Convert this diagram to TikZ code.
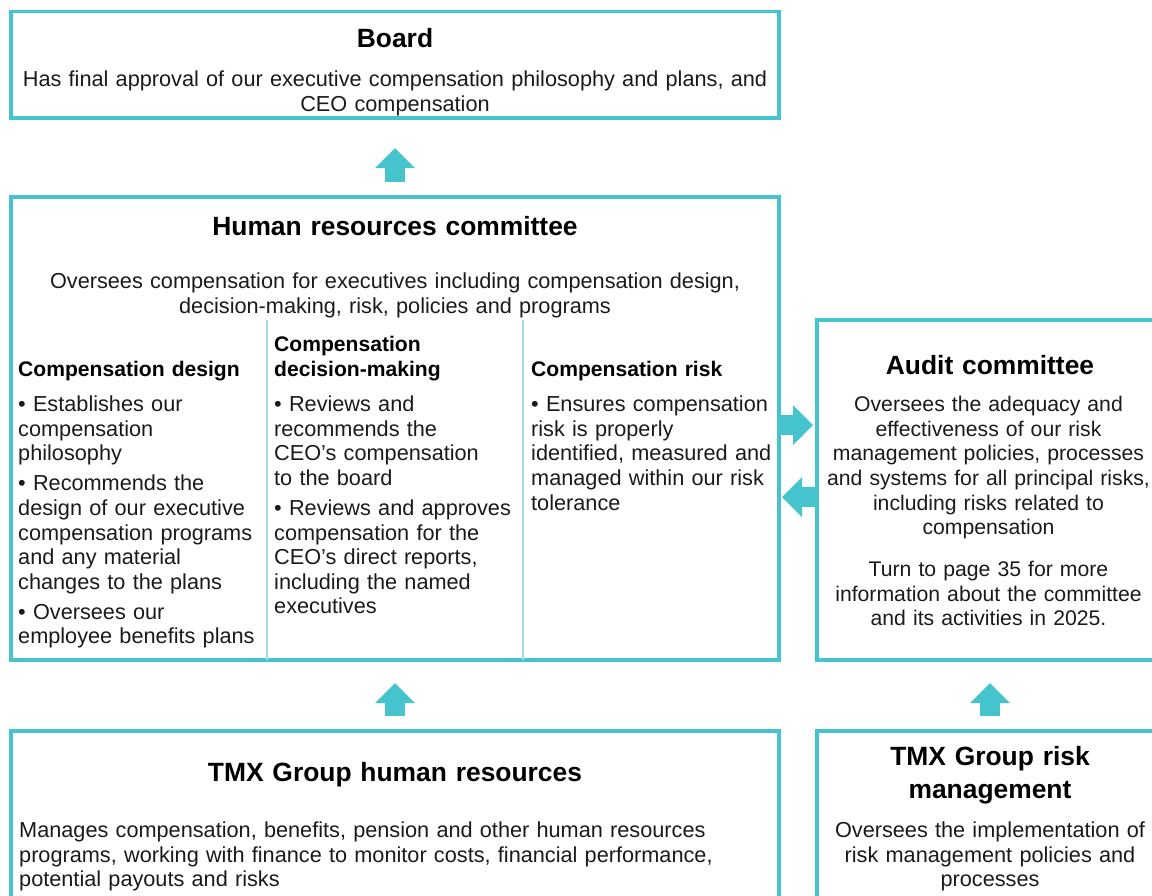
\documentclass[tikz,border=0pt]{standalone}
\usepackage{fontspec}
\setmainfont{Liberation Sans}
\usetikzlibrary{arrows.meta,calc}
\definecolor{tealline}{HTML}{45C4CD}
\definecolor{tealsoft}{HTML}{A3DEE3}
\definecolor{ink}{HTML}{1A1A1A}

\begin{document}
\begin{tikzpicture}[x=1pt,y=-1pt,
  box/.style={draw=tealline, line width=3.8pt, rectangle, inner sep=0pt, outer sep=0pt},
  divider/.style={draw=tealsoft, line width=1.3pt},
  blockarr/.style={draw=tealline, line width=20pt,
    -{Triangle[length=20pt 0 0, width=40pt 0 0, line width=0pt 0 0]}},
  titletext/.style={font=\bfseries\fontsize{26.4}{33}\selectfont, text=black,
    inner sep=0pt, anchor=base, align=center, text width=740pt},
  headl/.style={font=\bfseries\fontsize{21.1}{25}\selectfont, text=black,
    inner sep=0pt, anchor=base west, align=left, text width=248pt},
  bodyc/.style={font=\fontsize{21.7}{24.6}\selectfont, text=ink,
    inner sep=0pt, anchor=base, align=center, text width=770pt},
  bodyl/.style={font=\fontsize{21.7}{24.6}\selectfont, text=ink,
    inner sep=0pt, anchor=base west, align=left, text width=248pt},
]
\useasboundingbox (0,0) rectangle (1152,895);

% --- frames -------------------------------------------------------------
\node[box, minimum width=768pt, minimum height=106.5pt] (board)   at (395,64.75) {};
\node[box, minimum width=768pt, minimum height=463pt]   (hrc)     at (395,428.5) {};
\node[box, minimum width=346pt, minimum height=340pt]   (audit)   at (990,490)   {};
\node[box, minimum width=768pt, minimum height=189pt]   (tmxhr)   at (395,825.5) {};
\node[box, minimum width=346pt, minimum height=189pt]   (tmxrisk) at (990,825.5) {};

% column rules inside the committee frame
\draw[divider] (267,320) -- (267,320 |- hrc.south);
\draw[divider] (523,320) -- (523,320 |- hrc.south);

% --- Board ----------------------------------------------------------------
\node[titletext] (boardT) at (395,47) {Board};
\node[bodyc] (boardD) at (395,86.5)
  {Has final approval of our executive compensation philosophy and plans, and\\CEO compensation};

% --- Human resources committee --------------------------------------------
\node[titletext] (hrcT) at (395,235.5) {Human resources committee};
\node[bodyc] (hrcD) at (395,288.5)
  {Oversees compensation for executives including compensation design,\\decision-making, risk, policies and programs};

\node[headl] (c1H) at (18,376.7) {Compensation design};
\node[headl] (c2H) at (274,351.7) {Compensation\\decision-making};
\node[headl] (c3H) at (531,376.7) {Compensation risk};

\node[bodyl] (c1B) at (18,411.7)
  {• Establishes our\\compensation\\philosophy\\[5.4pt]%
   • Recommends the\\design of our executive\\compensation programs\\and any material\\changes to the plans\\[5.4pt]%
   • Oversees our\\employee benefits plans};
\node[bodyl] (c2B) at (274,411.7)
  {• Reviews and\\recommends the\\CEO’s compensation\\to the board\\[5.4pt]%
   • Reviews and approves\\compensation for the\\CEO’s direct reports,\\including the named\\executives};
\node[bodyl] (c3B) at (531,411.7)
  {• Ensures compensation\\risk is properly\\identified, measured and\\managed within our risk\\tolerance};

% --- Audit committee -------------------------------------------------------
\node[titletext, text width=360pt] (audT) at (990,374) {Audit committee};
\node[bodyc, text width=370pt, font=\fontsize{21.2}{24.6}\selectfont] (audD) at (988.5,411.7)
  {Oversees the adequacy and\\effectiveness of our risk\\management policies, processes\\and systems for all principal risks,\\including risks related to\\compensation\\[17.4pt]%
   Turn to page 35 for more\\information about the committee\\and its activities in 2025.};

% --- TMX Group human resources --------------------------------------------
\node[titletext] (tmxhrT) at (395,781) {TMX Group human resources};
\node[bodyl, text width=755pt] (tmxhrD) at (19,837.5)
  {Manages compensation, benefits, pension and other human resources\\programs, working with finance to monitor costs, financial performance,\\potential payouts and risks};

% --- TMX Group risk management ---------------------------------------------
\node[titletext, text width=360pt] (tmxrT) at (990,765) {TMX Group risk\\management};
\node[bodyc, text width=370pt] (tmxrD) at (990,837.5)
  {Oversees the implementation of\\risk management policies and\\processes};

% --- reporting arrows ------------------------------------------------------
\draw[blockarr] ($(hrc.north)+(0,-15)$) -- ($(board.south)+(0,30)$);
\draw[blockarr] ($(hrc.east |- 0,425)+(1,0)$) -- ($(audit.west |- 0,425)+(-4,0)$);
\draw[blockarr] ($(audit.west |- 0,497)+(-2,0)$) -- ($(hrc.east |- 0,497)+(3,0)$);
\draw[blockarr] ($(tmxhr.north)+(0,-15)$) -- ($(hrc.south)+(0,23)$);
\draw[blockarr] ($(tmxrisk.north)+(0,-15)$) -- ($(audit.south)+(0,23)$);
\end{tikzpicture}
\end{document}
